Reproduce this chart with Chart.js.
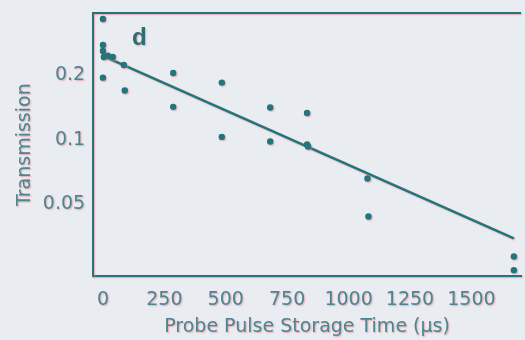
<!DOCTYPE html>
<html>
<head>
<meta charset="utf-8">
<script src="https://cdn.jsdelivr.net/npm/chart.js@4.4.0/dist/chart.umd.min.js"></script>
<style>
  body { margin: 0; background: #e9edf2; }
  #wrap { width: 525px; height: 340px; }
</style>
</head>
<body>
<div id="wrap"><canvas id="chart"></canvas></div>
<script>
// measured points (storage time in us, transmission)
const storageTimes = [0, 0, 0, 4, 20, 40, 0, 85, 89, 286, 286, 484, 484, 681, 681, 831, 831, 835, 1077, 1081, 1673, 1673];
const transmission = [0.363, 0.275, 0.258, 0.242, 0.245, 0.242, 0.194, 0.222, 0.169, 0.204, 0.142, 0.184, 0.103, 0.141, 0.098, 0.133, 0.095, 0.093, 0.066, 0.044, 0.0287, 0.0248];
// exponential fit
const fitTimes = [0, 1673];
const fitValues = [0.245, 0.0348];
const xTickValues = [0, 250, 500, 750, 1000, 1250, 1500];
const yTickValues = [0.05, 0.1, 0.2];

const teal = '#22757b';
const textColor = '#4d8590';
const font = { family: "'DejaVu Sans', sans-serif", size: 19 };

const framePlugin = {
  id: 'frame',
  beforeDraw(chart) {
    // pinkish fringe like the scanned figure
    const ctx = chart.ctx;
    ctx.shadowColor = 'rgba(225, 120, 130, 0.6)';
    ctx.shadowOffsetX = 1;
    ctx.shadowOffsetY = 1;
    ctx.shadowBlur = 1.5;
  },
  afterDraw(chart) {
    const ctx = chart.ctx, a = chart.chartArea;
    ctx.save();
    ctx.strokeStyle = teal;
    ctx.lineWidth = 2;
    ctx.beginPath();
    ctx.moveTo(a.left, a.top);
    ctx.lineTo(a.right, a.top);
    ctx.stroke();
    ctx.fillStyle = '#2d6f78';
    ctx.font = "bold 24px 'Liberation Sans', Arial, sans-serif";
    ctx.textBaseline = 'alphabetic';
    ctx.fillText('d', a.left + 39, a.top + 32);
    ctx.restore();
  }
};

new Chart(document.getElementById('chart'), {
  type: 'scatter',
  data: {
    datasets: [{
      label: 'Data',
      data: storageTimes.map((t, i) => ({ x: t, y: transmission[i] })),
      backgroundColor: teal,
      borderColor: teal,
      pointRadius: 3.2,
      pointBorderWidth: 0
    }, {
      label: 'Fit',
      type: 'line',
      data: fitTimes.map((t, i) => ({ x: t, y: fitValues[i] })),
      borderColor: teal,
      borderWidth: 2.5,
      pointRadius: 0,
      fill: false
    }]
  },
  options: {
    responsive: true,
    maintainAspectRatio: false,
    animation: false,
    layout: { padding: { top: 13, right: 0, bottom: 0, left: 14 } },
    plugins: { legend: { display: false }, tooltip: { enabled: false } },
    scales: {
      x: {
        type: 'linear',
        min: -40,
        max: 1702,
        afterBuildTicks: s => { s.ticks = xTickValues.map(v => ({ value: v })); },
        grid: { display: false },
        border: { color: teal, width: 2 },
        ticks: { color: textColor, font: font, padding: 4, maxRotation: 0, callback: v => String(v) },
        title: { display: true, text: 'Probe Pulse Storage Time (\u03bcs)', color: textColor, font: font, padding: { top: 0, bottom: 2 } }
      },
      y: {
        type: 'logarithmic',
        min: 0.0232,
        max: 0.387,
        afterBuildTicks: s => { s.ticks = yTickValues.map(v => ({ value: v })); },
        afterFit: s => { s.paddingTop = 0; s.paddingBottom = 0; },
        grid: { display: false },
        border: { color: teal, width: 2 },
        ticks: { color: textColor, font: font, padding: 0, callback: v => String(v) },
        title: { display: true, text: 'Transmission', color: textColor, font: font, padding: { top: 0, bottom: 6 } }
      }
    }
  },
  plugins: [framePlugin]
});
</script>
</body>
</html>
